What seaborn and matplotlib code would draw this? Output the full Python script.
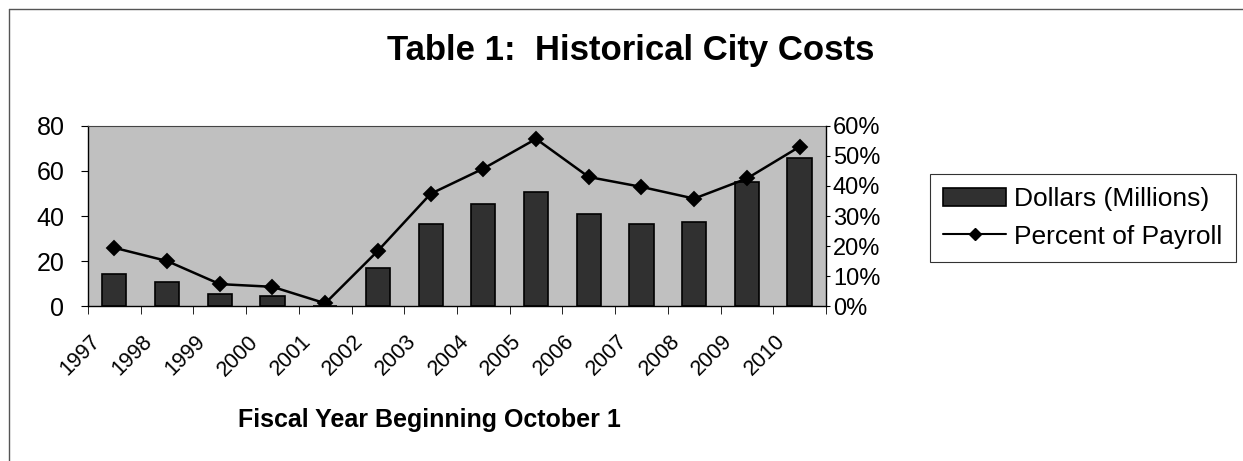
# imports
import numpy as np
import pandas as pd
import matplotlib
matplotlib.use("Agg")
import matplotlib.pyplot as plt
import matplotlib.transforms as mtrans
from matplotlib.lines import Line2D
from matplotlib.patches import Patch
import seaborn as sns

# data
years = ["1997", "1998", "1999", "2000", "2001", "2002", "2003",
         "2004", "2005", "2006", "2007", "2008", "2009", "2010"]
dollars = [14.3, 10.8, 5.5, 4.5, 0.0, 16.8, 36.3,
           45.4, 50.6, 41.0, 36.3, 37.2, 55.2, 65.9]
pct_payroll = [19.4, 15.0, 7.3, 6.4, 0.9, 18.4, 37.4,
               45.8, 55.7, 43.0, 39.7, 35.8, 42.5, 53.1]

df = pd.DataFrame({"year": years, "dollars": dollars, "pct": pct_payroll})

sns.set_style("white")
plt.rcParams["font.family"] = ["Liberation Sans", "DejaVu Sans"]
plt.rcParams["text.color"] = "black"
plt.rcParams["xtick.color"] = "black"
plt.rcParams["ytick.color"] = "black"
plt.rcParams["axes.labelcolor"] = "black"

fig = plt.figure(figsize=(12.43, 4.61), dpi=100)
ax = fig.add_axes([0.0708, 0.3362, 0.5937, 0.3905])
ax.set_facecolor("#c0c0c0")

# bars
sns.barplot(data=df, x="year", y="dollars", ax=ax, color="#303030",
            edgecolor="black", linewidth=1.2, width=0.46, saturation=1)

# percent line on second axis
ax2 = ax.twinx()
sns.pointplot(data=df, x="year", y="pct", ax=ax2, color="black",
              markers="D", markersize=7, linewidth=1.8)

ax.set_xlim(-0.5, len(years) - 0.5)
ax.set_ylim(0, 80)
ax2.set_ylim(0, 60)
ax.set_yticks([0, 20, 40, 60, 80])
ax2.set_yticks([0, 10, 20, 30, 40, 50, 60])
ax2.set_yticklabels([f"{v}%" for v in [0, 10, 20, 30, 40, 50, 60]])

for a in (ax, ax2):
    for s in a.spines.values():
        s.set_visible(False)
ax.spines["left"].set_visible(True)
ax.spines["bottom"].set_visible(True)
ax2.spines["right"].set_visible(True)
for s in (ax.spines["left"], ax.spines["bottom"], ax2.spines["right"]):
    s.set_color("black")
    s.set_linewidth(1.0)
ax.spines["top"].set_visible(True)
ax.spines["top"].set_color("#444444")
ax.spines["top"].set_linewidth(0.8)

ax.tick_params(axis="y", labelsize=18, length=5, direction="out",
               left=True, color="black", pad=12)
ax2.tick_params(axis="y", labelsize=17, length=3, direction="out",
                right=True, color="black", pad=2)

# x tick marks at category boundaries, labels at centres
ax.set_xticks(np.arange(len(years)))
ax.set_xticklabels(years, rotation=45, ha="right", rotation_mode="anchor",
                   fontsize=15.5)
ax.tick_params(axis="x", length=0, pad=18)
ax.set_xticks(np.arange(len(years) + 1) - 0.5, minor=True)
ax.tick_params(axis="x", which="minor", length=6, bottom=True,
               direction="out", color="black")
offset = mtrans.ScaledTranslation(-18 / 72, 0, fig.dpi_scale_trans)
for lab in ax.get_xticklabels():
    lab.set_transform(lab.get_transform() + offset)

ax.set_ylabel("")
ax2.set_ylabel("")
ax.set_xlabel("Fiscal Year Beginning October 1", fontsize=18,
              fontweight="bold")
ax.xaxis.set_label_coords(0.463, -0.565)

fig.text(0.507, 0.89, "Table 1:  Historical City Costs", fontsize=25,
         fontweight="bold", ha="center", va="center")

# legend
handles = [Patch(facecolor="#303030", edgecolor="black", linewidth=1.2),
           Line2D([0], [0], color="black", marker="D", markersize=6,
                  linewidth=1.5)]
leg = fig.legend(handles, ["Dollars (Millions)", "Percent of Payroll"],
                 loc="upper left", bbox_to_anchor=(0.748, 0.622),
                 fontsize=19, frameon=True, fancybox=False,
                 handlelength=2.4, handletextpad=0.3, borderpad=0.5,
                 labelspacing=0.5, borderaxespad=0)
leg.get_frame().set_edgecolor("black")
leg.get_frame().set_linewidth(0.8)

# outer chart border (top and left)
fig.add_artist(Line2D([0.007, 1.0], [0.98, 0.98], color="#555555",
                      linewidth=1.0, transform=fig.transFigure))
fig.add_artist(Line2D([0.007, 0.007], [0.0, 0.98], color="#555555",
                      linewidth=1.0, transform=fig.transFigure))

fig.savefig("out.png", dpi=100)
